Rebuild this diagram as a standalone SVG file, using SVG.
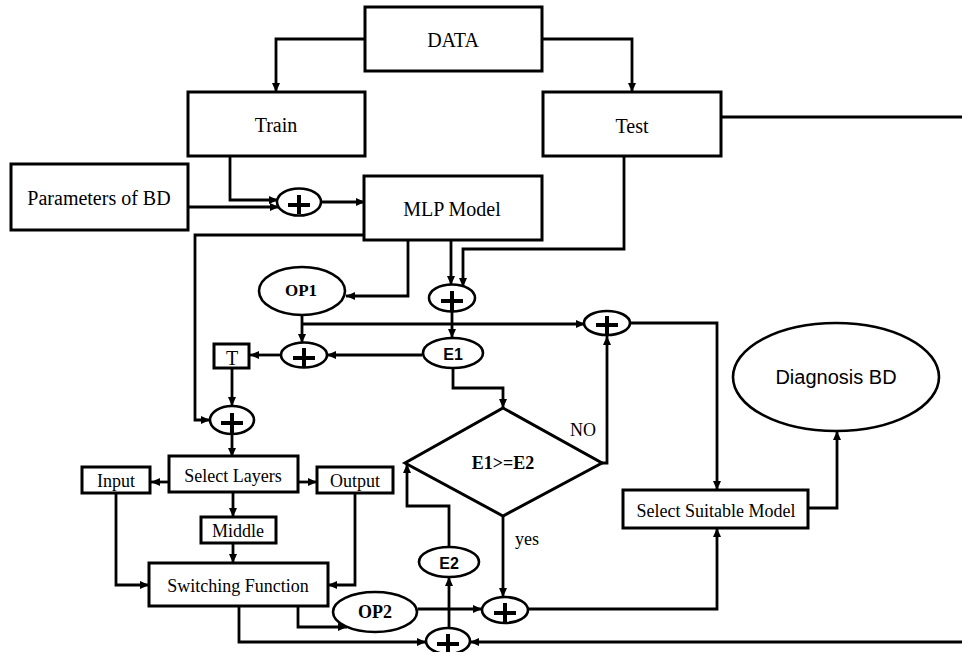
<svg xmlns="http://www.w3.org/2000/svg" width="962" height="652" viewBox="0 0 962 652">
<style>
.box{fill:#fff;stroke:#000;stroke-width:3}
.ell{fill:#fff;stroke:#000;stroke-width:2.6}
.plus{fill:none;stroke:#000;stroke-width:4}
.ser{font-family:"Liberation Serif","Times New Roman",serif;fill:#000;text-anchor:middle}
.sb{font-family:"Liberation Serif","Times New Roman",serif;font-weight:bold;fill:#000;text-anchor:middle}
.sans{font-family:"Liberation Sans",Arial,sans-serif;fill:#000;text-anchor:middle}
.ln{fill:none;stroke:#000;stroke-width:2.8}
.ar{marker-end:url(#ah)}
</style>
<defs>
<marker id="ah" markerUnits="userSpaceOnUse" markerWidth="10" markerHeight="10" refX="9" refY="4" orient="auto">
<path d="M0,0 L9,4 L0,8 Z" fill="#000"/>
</marker>
</defs>
<rect width="962" height="652" fill="#fff"/>
<g id="connectors">
<path class="ln ar" d="M365,39 H276 V92"/>
<path class="ln ar" d="M542,39 H632 V92"/>
<path class="ln" d="M721,117 H962"/>
<path class="ln ar" d="M230,156 V200 H278"/>
<path class="ln ar" d="M188,207 H279"/>
<path class="ln ar" d="M321,202 H365"/>
<path class="ln ar" d="M364,235 H195 V420 H210"/>
<path class="ln ar" d="M408,240 V296 H346"/>
<path class="ln ar" d="M451,240 V285"/>
<path class="ln ar" d="M624,156 V249 H463 V287"/>
<path class="ln ar" d="M452,312 V338"/>
<path class="ln ar" d="M302,315 V343"/>
<path class="ln ar" d="M302,324 H585"/>
<path class="ln ar" d="M422,355 H327"/>
<path class="ln ar" d="M281,355 H250"/>
<path class="ln ar" d="M232,368 V406"/>
<path class="ln ar" d="M232,434 V457"/>
<path class="ln ar" d="M169,482 H151"/>
<path class="ln ar" d="M298,482 H317"/>
<path class="ln ar" d="M233,492 V517"/>
<path class="ln ar" d="M233,543 V563"/>
<path class="ln ar" d="M116,493 V585 H149"/>
<path class="ln ar" d="M355,493 V585 H328"/>
<path class="ln ar" d="M298,606 V627 H347"/>
<path class="ln ar" d="M239,606 V642 H426"/>
<path class="ln ar" d="M962,642 H470"/>
<path class="ln ar" d="M449,628 V577"/>
<path class="ln ar" d="M449,547 V506 H407 V464"/>
<path class="ln ar" d="M453,368 V388 H503 V408"/>
<path class="ln ar" d="M602,463 H607 V336"/>
<path class="ln ar" d="M630,323 H717 V490"/>
<path class="ln ar" d="M808,508 H837 V431"/>
<path class="ln ar" d="M503,516 V597"/>
<path class="ln ar" d="M418,609 H482"/>
<path class="ln ar" d="M528,609 H717 V528"/>
</g>
<g id="data"><rect class="box" x="365" y="7" width="177" height="64"/><text class="ser" x="453" y="47" font-size="20">DATA</text></g>
<g id="train"><rect class="box" x="188" y="92" width="177" height="64"/><text class="ser" x="276" y="132" font-size="20">Train</text></g>
<g id="test"><rect class="box" x="543" y="92" width="178" height="64"/><text class="ser" x="632" y="133" font-size="20">Test</text></g>
<g id="params"><rect class="box" x="11" y="164" width="177" height="66"/><text class="ser" x="99" y="205" font-size="20">Parameters of BD</text></g>
<g id="mlp"><rect class="box" x="364" y="176" width="178" height="64"/><text class="ser" x="452" y="216" font-size="20">MLP Model</text></g>
<g id="plus1"><ellipse class="ell" cx="299" cy="202" rx="22" ry="13.5"/><path class="plus" d="M288,205 H310 M299,195 V214"/></g>
<g id="plus2"><ellipse class="ell" cx="452" cy="298" rx="23" ry="13.5"/><path class="plus" d="M441,301 H463 M452,291 V311"/></g>
<g id="op1"><ellipse class="ell" cx="302" cy="291" rx="43" ry="24"/><text class="sb" x="301" y="296" font-size="17">OP1</text></g>
<g id="plus5"><ellipse class="ell" cx="607" cy="323" rx="23" ry="12"/><path class="plus" d="M596,325 H618 M607,316 V335"/></g>
<g id="e1"><ellipse class="ell" cx="453" cy="353" rx="30" ry="15"/><text class="sans" x="453" y="360" font-size="16" font-weight="bold">E1</text></g>
<g id="plus4"><ellipse class="ell" cx="304" cy="355" rx="23" ry="12.5"/><path class="plus" d="M293,358 H315 M304,348 V367"/></g>
<g id="t"><rect class="box" x="214" y="344" width="35" height="24"/><text class="ser" x="232" y="365" font-size="20">T</text></g>
<g id="plus3"><ellipse class="ell" cx="232" cy="420" rx="22" ry="14"/><path class="plus" d="M221,423 H243 M232,413 V433"/></g>
<g id="diamond"><polygon class="box" points="503,408 602,463 503,516 405,463"/><text class="sb" x="503" y="469" font-size="18">E1&gt;=E2</text></g>
<text class="ser" x="583" y="436" font-size="18">NO</text>
<text class="ser" x="527" y="545" font-size="18">yes</text>
<g id="diagnosis"><ellipse class="ell" cx="836" cy="377" rx="103" ry="54"/><text class="sans" x="836" y="384" font-size="20">Diagnosis BD</text></g>
<g id="selectlayers"><rect class="box" x="169" y="456" width="129" height="36"/><text class="ser" x="233" y="482" font-size="18">Select Layers</text></g>
<g id="input"><rect class="box" x="82" y="467" width="68" height="26"/><text class="ser" x="116" y="487" font-size="18">Input</text></g>
<g id="output"><rect class="box" x="317" y="467" width="76" height="26"/><text class="ser" x="355" y="487" font-size="18">Output</text></g>
<g id="middle"><rect class="box" x="201" y="517" width="75" height="26"/><text class="ser" x="238" y="537" font-size="18">Middle</text></g>
<g id="switching"><rect class="box" x="149" y="563" width="179" height="43"/><text class="ser" x="238" y="592" font-size="18">Switching Function</text></g>
<g id="ssm"><rect class="box" x="623" y="490" width="185" height="38"/><text class="ser" x="716" y="517" font-size="18">Select Suitable Model</text></g>
<g id="e2"><ellipse class="ell" cx="449" cy="562" rx="30" ry="15"/><text class="sans" x="449" y="569" font-size="16" font-weight="bold">E2</text></g>
<g id="op2"><ellipse class="ell" cx="375" cy="612" rx="42" ry="20"/><text class="sb" x="375" y="618" font-size="18">OP2</text></g>
<g id="plus6"><ellipse class="ell" cx="505" cy="610" rx="23" ry="13"/><path class="plus" d="M494,613 H516 M505,603 V622"/></g>
<g id="plus7"><ellipse class="ell" cx="448" cy="641" rx="22" ry="13"/><path class="plus" d="M437,644 H459 M448,634 V653"/></g>
</svg>
